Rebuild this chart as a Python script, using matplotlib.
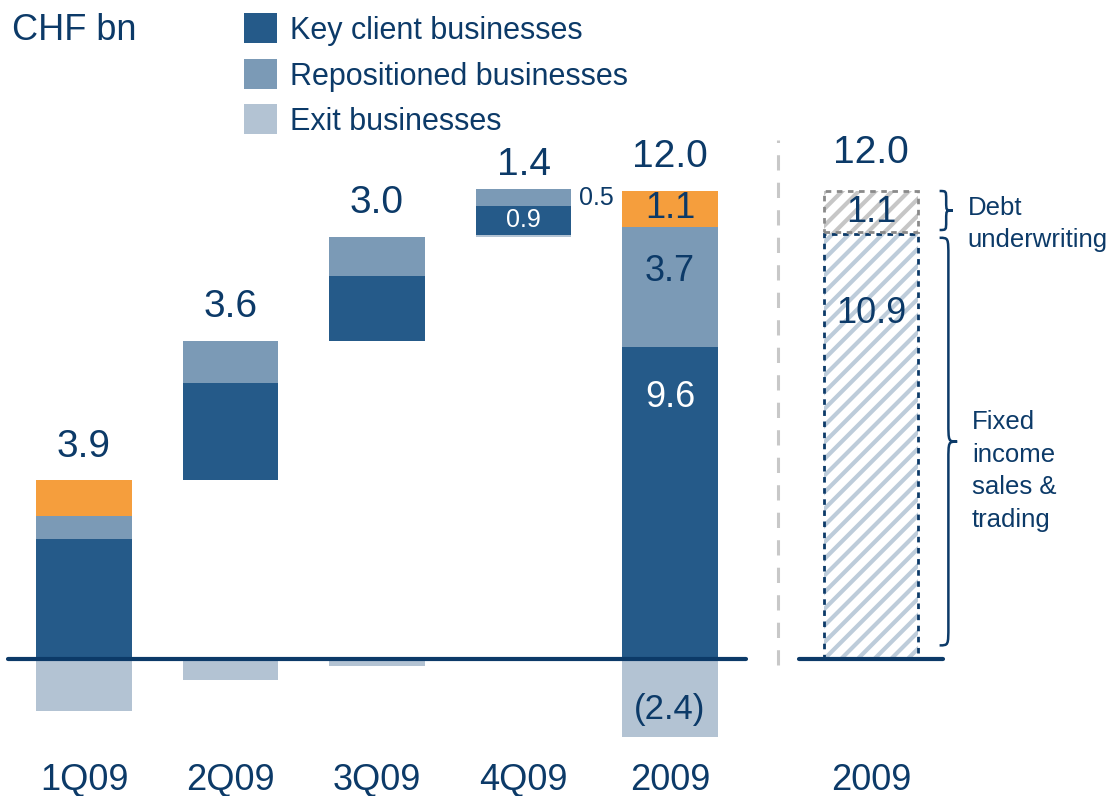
import numpy as np
import matplotlib
matplotlib.use("Agg")
import matplotlib.pyplot as plt
from matplotlib.patches import Rectangle, PathPatch
from matplotlib.path import Path

plt.rcParams['font.family'] = ['Liberation Sans', 'DejaVu Sans']
plt.rcParams['hatch.linewidth'] = 3.0

# ---- data (CHF bn) ----
quarters = ["1Q09", "2Q09", "3Q09", "4Q09"]
key_q = [3.7, 3.0, 2.0, 0.9]
repo_q = [0.7, 1.3, 1.2, 0.5]
debt_q = [1.1, 0.0, 0.0, 0.0]
exit_q = [-1.6, -0.65, -0.2, 0.05]
net_q = ["3.9", "3.6", "3.0", "1.4"]

year_label = "2009"
key_y = 9.6
repo_y = 3.7
debt_y = 1.1
exit_y = -2.4
net_y = 12.0

# right-hand split of the full year
fixed_income = 10.9
debt_uw = 1.1

# ---- colours ----
KEY = "#255A89"
REPO = "#7B9AB6"
EXIT = "#B3C3D3"
ORANGE = "#F59E3D"
NAVY = "#0C3A68"
HATCH_BLUE = "#BDCCDA"
HATCH_GREY = "#C6C6C6"

fig = plt.figure(figsize=(11.11, 7.96), dpi=100)
ax = fig.add_axes([0, 0, 1, 1])
ax.set_xlim(-0.5734, 7.010)
ax.set_ylim(-4.215, 20.277)
ax.axis("off")

W = 0.655

# ---- quarterly waterfall ----
base = 0.0
for i, q in enumerate(quarters):
    b = base
    # exit: negative goes down from zero, positive sits at the running base
    if exit_q[i] < 0:
        ax.bar(i, exit_q[i], W, bottom=0, color=EXIT, lw=0)
    else:
        ax.bar(i, exit_q[i], W, bottom=b, color=EXIT, lw=0)
        b += exit_q[i]
    ax.bar(i, key_q[i], W, bottom=b, color=KEY, lw=0)
    b += key_q[i]
    ax.bar(i, repo_q[i], W, bottom=b, color=REPO, lw=0)
    b += repo_q[i]
    if debt_q[i] > 0:
        ax.bar(i, debt_q[i], W, bottom=b, color=ORANGE, lw=0)
        b += debt_q[i]
    off = 10 if i == 3 else 17
    ax.annotate(net_q[i], (i, b), xytext=(0, off), textcoords="offset points",
                ha="center", va="baseline", fontsize=28, color=NAVY)
    base = b

# 4Q09 inner labels
k4 = base - repo_q[3] - key_q[3]
ax.text(3, k4 + key_q[3] / 2, f"{key_q[3]:.1f}", ha="center", va="center",
        fontsize=18, color="white")
ax.text(3 + W / 2 + 0.05, base - repo_q[3] / 2, f"{repo_q[3]:.1f}", ha="left",
        va="center", fontsize=18, color=NAVY)

# ---- full year bar ----
xy = 4
ax.bar(xy, key_y, W, bottom=0, color=KEY, lw=0)
ax.bar(xy, repo_y, W, bottom=key_y, color=REPO, lw=0)
ax.bar(xy, debt_y, W, bottom=key_y + repo_y, color=ORANGE, lw=0)
ax.bar(xy, exit_y, W, bottom=0, color=EXIT, lw=0)
top_y = key_y + repo_y + debt_y
ax.annotate(f"{key_y:.1f}", (xy, key_y), xytext=(0, -36), textcoords="offset points",
            ha="center", va="center", fontsize=26, color="white")
ax.annotate(f"{repo_y:.1f}", (xy, key_y + repo_y / 2), xytext=(0, 11),
            textcoords="offset points", ha="center", va="center", fontsize=26, color=NAVY)
ax.text(xy, key_y + repo_y + debt_y / 2, f"{debt_y:.1f}", ha="center", va="center",
        fontsize=26, color=NAVY)
ax.annotate(f"({-exit_y:.1f})", (xy, exit_y / 2), xytext=(0, -8), textcoords="offset points",
            ha="center", va="center", fontsize=25, color=NAVY)
ax.annotate(f"{net_y:.1f}", (xy, top_y), xytext=(0, 17), textcoords="offset points",
            ha="center", va="baseline", fontsize=28, color=NAVY)

# baseline + category labels
ax.plot([-0.52, 4.52], [0, 0], color=NAVY, lw=3, solid_capstyle="round", zorder=5)
for i, lab in enumerate(quarters + [year_label]):
    ax.text(i, -3.74, lab, ha="center", va="center", fontsize=26, color=NAVY)

# divider
ax.plot([4.74, 4.74], [-0.18, 15.97], color="#C8C8C8", lw=2.2, ls=(0, (5, 4)))

# ---- right panel: split of the year total (own scale) ----
ax2 = fig.add_axes([0, 0, 1, 1], facecolor="none")
ax2.set_xlim(ax.get_xlim())
ax2.set_ylim(np.array(ax.get_ylim()) / 1.2)
ax2.axis("off")

xr = 5.372
WR = 0.64
ax2.bar(xr, fixed_income, WR, bottom=0, color="white", edgecolor=HATCH_BLUE,
        hatch="//", lw=0)
ax2.bar(xr, debt_uw, WR, bottom=fixed_income, color="white", edgecolor=HATCH_GREY,
        hatch="//", lw=0)
ax2.add_patch(Rectangle((xr - WR / 2, 0), WR, fixed_income, fill=False,
                        edgecolor=NAVY, lw=2, ls=(0, (2, 2)), zorder=4))
ax2.add_patch(Rectangle((xr - WR / 2, fixed_income + 0.06), WR, debt_uw - 0.06,
                        fill=False, edgecolor="#8A8A8A", lw=2, ls=(0, (2, 2)), zorder=4))
ax2.text(xr, fixed_income + debt_uw / 2, f"{debt_uw:.1f}", ha="center", va="center",
         fontsize=26, color=NAVY, zorder=6)
ax2.annotate(f"{fixed_income:.1f}", (xr, fixed_income), xytext=(0, -57),
             textcoords="offset points", ha="center", va="center", fontsize=26,
             color=NAVY, zorder=6)
ax2.annotate(f"{fixed_income + debt_uw:.1f}", (xr, fixed_income + debt_uw),
             xytext=(0, 20), textcoords="offset points", ha="center", va="baseline",
             fontsize=28, color=NAVY)
ax2.plot([xr - 0.49, xr + 0.49], [0, 0], color=NAVY, lw=3, solid_capstyle="round",
         zorder=5)
ax2.text(xr, -3.74 / 1.2, year_label, ha="center", va="center", fontsize=26, color=NAVY)


def brace(a, x0, w, y0, y1, h):
    """Vertical curly brace from y0 to y1 with the tip pointing right."""
    xm = x0 + w / 2
    ym = (y0 + y1) / 2
    verts = [(x0, y0), (xm, y0), (xm, y0), (xm, y0 + h),
             (xm, ym - h), (xm, ym), (xm, ym), (x0 + w, ym),
             (xm, ym), (xm, ym), (xm, ym + h),
             (xm, y1 - h), (xm, y1), (xm, y1), (x0, y1)]
    codes = [Path.MOVETO, Path.CURVE4, Path.CURVE4, Path.CURVE4,
             Path.LINETO, Path.CURVE4, Path.CURVE4, Path.CURVE4,
             Path.CURVE4, Path.CURVE4, Path.CURVE4,
             Path.LINETO, Path.CURVE4, Path.CURVE4, Path.CURVE4]
    a.add_patch(PathPatch(Path(verts, codes), fill=False, edgecolor=NAVY, lw=1.8))


brace(ax2, 5.84, 0.09, fixed_income + 0.1, fixed_income + debt_uw, 0.22)
brace(ax2, 5.84, 0.12, 0.35, fixed_income - 0.1, 0.5)

ax2.text(6.03, fixed_income + debt_uw / 2 - 0.3, "Debt\nunderwriting", ha="left",
         va="center", fontsize=18.5, color=NAVY, linespacing=1.45)
ax2.text(6.06, (0.35 + fixed_income) / 2 - 0.8, "Fixed\nincome\nsales &\ntrading",
         ha="left", va="center", fontsize=18.5, color=NAVY, linespacing=1.45)

# ---- unit label and legend ----
fig.text(12 / 1111, 1 - 31 / 796, "CHF bn", ha="left", va="center", fontsize=26,
         color=NAVY)
legend_items = [("Key client businesses", KEY), ("Repositioned businesses", REPO),
                ("Exit businesses", EXIT)]
for j, (lab, col) in enumerate(legend_items):
    yc = 28 + 45.5 * j
    fig.patches.append(Rectangle((244 / 1111, 1 - (yc + 15) / 796), 33 / 1111, 30 / 796,
                                 transform=fig.transFigure, color=col, lw=0))
    fig.text(290 / 1111, 1 - (yc + 3) / 796, lab, ha="left", va="center", fontsize=22,
             color=NAVY)

fig.savefig("out.png", dpi=100)
